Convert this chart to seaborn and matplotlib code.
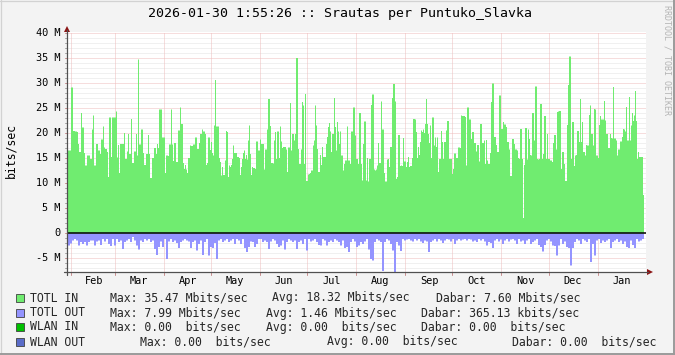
import numpy as np
import pandas as pd
import matplotlib
matplotlib.use("Agg")
import matplotlib.pyplot as plt
import matplotlib.transforms as mtransforms
from matplotlib.patches import Polygon, Rectangle
from matplotlib.lines import Line2D
import seaborn as sns

# ---------------- data (Mbit/s, one value per time slot) ----------------
title = "2026-01-30 1:55:26 :: Srautas per Puntuko_Slavka"
start = pd.Timestamp("2025-01-30 01:55:26")
end = pd.Timestamp("2026-01-30 01:55:26")
month_starts = pd.date_range("2025-02-01", "2026-01-01", freq="MS")
month_labels = [d.strftime("%b") for d in month_starts]

in_feb_mar = [16.6,16.6,16.6,29.2,29.2,20.5,20.5,20.4,20.4,20.3,
              17.9,16.3,16.3,24.1,21.2,21.2,16.1,13.6,13.6,15.6,
              15.6,15.6,14.9,14.9,20.8,23.6,13.6,13.6,17.9,17.9,
              16.6,16.6,15.9,18.8,18.8,21.4,17.2,16.9,16.9,16.3,
              11.3,23.2,23.2,15.3,23.2,23.2,23.2,23.2,24.4,15.2,
              17.7,12.1,17.9,17.9,17.9,17.9,20.1,14.9,14.9,16.4,
              19.9,15.9,15.9,22.9,14.1,14.1,16.4,16.4,19.9,15.6,
              34.8,17.8,17.8,20.8,20.8,16.1,13.7,13.7,15.9,15.9,
              19.7,15.9,11.1,11.1,15.1,15.1,17.1,17.1,15.9,17.9,
              17.1,24.8,24.8,24.8]
in_apr_may = [19.2,19.2,19.2,12.1,15.6,15.6,15.5,17.8,17.8,24.8,
              17.8,14.5,18.1,18.1,14.3,14.3,20.6,20.6,25.2,21.9,
              21.9,14.1,12.9,13.7,12.8,12.1,15.1,15.1,17.6,17.5,
              17.5,17.8,17.8,19.2,19.2,16.9,16.9,18.1,19.9,19.9,
              20.8,20.4,20.4,19.9,13.7,14.1,19.2,19.2,16.7,18.3,
              16.1,15.6,21.6,30.7,21.4,21.4,21.4,15.1,14.3,11.6,
              13.3,11.7,11.7,14.6,20.5,20.3,11.3,13.6,13.3,13.7,
              14.9,17.6,16.1,16.1,16.1,15.3,15.3,15.1,11.7,13.3,
              14.9,16.1,16.6,14.9,15.7,14.8,18.6,21.6,15.9,11.7,
              13.3,13.1,13.1,12.9,18.4,18.4,16.6,16.6]
in_jun_jul = [18.8,17.9,17.9,17.9,12.8,16.8,16.8,20.8,26.9,26.9,
              21.5,14.1,14.1,14.0,18.6,20.3,14.9,20.4,20.4,15.1,
              21.4,18.4,17.1,17.3,17.3,17.3,16.8,12.3,17.2,17.2,
              26.1,16.6,19.9,19.9,18.6,19.9,35.1,35.1,16.9,13.9,
              13.9,16.8,26.3,25.6,13.9,27.9,10.5,10.5,11.8,11.9,
              12.1,12.6,12.6,17.6,18.6,25.6,21.6,16.9,12.3,12.3,
              15.7,13.7,17.3,15.3,15.3,15.3,17.9,19.3,21.3,22.1,
              20.4,16.3,19.9,19.9,27.1,21.3,16.6,22.3,20.4,17.9,
              20.4,15.6,15.6,12.6,13.9,14.6,14.6,21.4,14.6,14.6,
              13.9,20.4,20.4,25.2,25.2,19.6,14.9,14.9]
in_aug_sep = [13.9,24.1,24.1,13.9,10.6,17.9,22.4,22.4,10.6,15.1,
              10.4,14.9,14.9,25.7,27.8,27.8,12.8,12.6,12.8,13.6,
              18.1,14.1,14.1,26.4,20.8,20.8,12.1,10.4,10.4,14.8,
              14.9,13.3,17.3,17.3,27.1,29.9,29.9,26.4,10.9,11.3,
              19.7,19.7,13.5,13.6,13.5,19.1,14.4,14.4,13.3,14.3,
              15.3,13.3,13.5,13.5,15.1,22.9,22.9,22.8,20.3,15.1,
              17.3,15.7,18.3,20.6,20.3,20.8,20.1,21.9,26.9,21.9,
              19.9,18.1,21.6,15.1,23.2,23.2,17.6,19.2,17.3,19.2,
              12.3,14.9,14.9,20.5,18.3,14.9,18.3,18.3,20.6,22.5,
              22.5,14.9,14.9,14.9,11.9,12.9,16.0,16.0]
in_oct_nov = [15.1,15.1,17.2,17.2,17.1,23.6,23.5,23.5,23.5,23.3,
              13.6,25.2,25.2,22.8,22.8,18.9,20.3,20.3,18.1,18.1,
              16.4,17.7,17.7,14.4,21.9,21.9,18.1,18.1,18.6,13.9,
              18.7,14.6,13.9,13.9,16.1,26.3,30.0,30.0,19.3,19.3,
              17.7,16.3,16.3,27.6,27.6,20.9,20.9,22.3,21.8,21.8,
              21.3,18.3,18.3,16.8,11.5,11.5,18.9,18.9,17.9,16.8,
              16.8,16.6,15.1,14.9,20.9,20.9,14.9,3.1,13.7,21.1,
              21.1,14.8,20.8,18.9,15.7,15.6,24.1,24.1,18.6,29.4,
              29.4,14.9,14.8,14.9,25.9,25.9,14.9,15.9,23.5,23.5,
              14.9,19.9,14.9,14.9,14.6,14.6,14.3,18.1]
in_dec_jan = [19.7,19.7,16.8,24.3,24.4,24.5,24.5,12.9,16.3,16.3,
              13.9,10.5,10.5,21.7,29.7,35.4,35.4,14.9,22.3,22.3,
              13.5,15.6,15.7,20.5,20.5,18.3,26.9,18.3,22.3,16.3,
              16.3,15.6,17.7,17.6,17.6,23.7,25.6,19.9,19.9,17.6,
              24.9,24.8,15.6,15.6,15.1,21.7,23.5,22.8,22.8,22.8,
              26.5,22.6,19.9,19.9,17.1,17.1,19.9,19.1,19.0,29.3,
              19.0,19.0,18.6,15.6,16.8,16.8,18.4,18.4,19.3,20.9,
              20.8,20.4,25.3,18.6,18.6,27.3,18.6,21.6,24.1,22.5,
              23.6,28.5,22.5,14.9,16.3,15.3,15.3,15.3,15.3,7.7]

out_feb_mar = [2.4,2.0,1.4,1.1,1.4,2.4,1.7,2.1,1.7,2.4,
               1.7,1.4,1.4,2.4,1.6,1.4,2.3,1.1,1.6,1.1,
               2.1,2.5,1.1,2.4,1.1,1.7,1.4,3.1,1.7,1.4,
               1.1,1.7,0.7,1.4,2.4,3.2,1.4,1.7,1.1,1.4,
               1.1,1.7,1.4,3.1,4.3,2.7,1.6]
out_apr_may = [2.7,1.1,5.1,1.6,1.1,1.7,1.4,1.9,2.9,1.7,
               1.4,1.1,1.4,1.6,2.9,1.7,1.4,3.4,2.1,1.4,
               4.3,1.7,1.1,4.4,2.7,2.9,1.9,5.1,1.4,1.1,
               1.7,1.4,1.1,1.7,1.4,1.1,2.1,1.1,1.4,2.1,
               1.1,2.9,3.7,2.7,1.6,1.7,2.7,2.1,1.1]
out_jun_jul = [1.1,1.7,1.4,1.7,3.1,1.6,1.1,1.4,2.1,2.7,
               2.4,1.4,3.2,1.7,1.1,1.4,1.7,1.4,3.1,1.7,
               1.4,2.1,1.1,3.4,1.1,1.6,1.4,1.1,1.7,2.3,
               2.4,1.1,1.4,2.4,1.7,1.4,1.7,1.1,1.4,1.7,
               2.4,1.4,2.9,2.7,3.7,1.7,1.1,1.6,2.7]
out_aug_sep = [2.4,1.7,2.1,1.6,1.1,3.2,5.1,5.4,1.7,1.1,
               1.4,1.7,7.5,1.7,1.1,1.4,2.1,3.4,7.99,1.7,
               2.4,3.5,1.1,1.4,1.2,1.1,1.4,1.6,1.1,1.4,
               1.1,1.6,1.9,1.4,1.6,3.7,1.7,1.4,1.1,1.6,
               1.1,1.4,1.9,1.4,1.1,1.2,1.6,1.1,2.1]
out_oct_nov = [1.4,1.1,1.4,1.2,1.1,1.4,1.1,1.2,1.6,1.4,
               1.7,1.1,1.4,1.1,1.6,2.4,1.7,1.9,2.9,1.4,
               1.1,1.6,1.2,2.1,1.4,1.1,1.6,1.2,1.1,1.4,
               2.1,1.1,1.6,1.4,2.1,1.4,1.1,2.1,1.7,1.4,
               1.1,2.3,2.7,3.6,2.3,1.4,1.1,1.6,2.4]
out_dec_jan = [2.5,4.4,2.4,1.1,2.1,1.6,2.7,2.9,6.4,2.9,
               1.7,1.1,1.4,2.1,1.1,1.4,1.7,1.1,5.7,2.1,
               4.4,1.4,1.1,1.9,1.4,1.7,1.4,1.1,2.9,1.7,
               1.4,1.1,1.7,1.4,2.1,1.6,2.7,2.9,1.4,2.3,
               2.9,1.1,1.6,1.4,1.1]

legend_names = ["TOTL IN", "TOTL OUT", "WLAN IN", "WLAN OUT"]
legend_max = ["Max: 35.47 Mbits/sec", "Max: 7.99 Mbits/sec", "Max: 0.00  bits/sec", "Max: 0.00  bits/sec"]
legend_avg = ["Avg: 18.32 Mbits/sec", "Avg: 1.46 Mbits/sec", "Avg: 0.00  bits/sec", "Avg: 0.00  bits/sec"]
legend_now = ["Dabar: 7.60 Mbits/sec", "Dabar: 365.13 kbits/sec", "Dabar: 0.00  bits/sec", "Dabar: 0.00  bits/sec"]
legend_colors = ["#70EC70", "#9494FF", "#00C000", "#5A6CC8"]
ytick_vals = [40, 35, 30, 25, 20, 15, 10, 5, 0, -5]
ytick_labels = ["40 M", "35 M", "30 M", "25 M", "20 M", "15 M", "10 M", "5 M", "0", "-5 M"]

# ---------------- build frames ----------------
span = (end - start).total_seconds() / 86400.0
totl_in = np.concatenate([in_feb_mar, in_apr_may, in_jun_jul, in_aug_sep, in_oct_nov, in_dec_jan])
totl_out = np.concatenate([out_feb_mar, out_apr_may, out_jun_jul, out_aug_sep, out_oct_nov, out_dec_jan])
e_in = np.linspace(0, span, len(totl_in) + 1)
e_out = np.linspace(0, span, len(totl_out) + 1)
df_in = pd.DataFrame({"day": (e_in[:-1] + e_in[1:]) / 2, "mbps": totl_in})
df_out = pd.DataFrame({"day": (e_out[:-1] + e_out[1:]) / 2, "mbps": -totl_out})

# ---------------- figure ----------------
W, H = 675, 355
sns.set_style("white")
plt.rcParams['font.family'] = ['DejaVu Sans Mono', 'DejaVu Sans']

fig = plt.figure(figsize=(W / 100, H / 100), dpi=100)
fig.patch.set_facecolor("#F3F3F3")

def fx(px):
    return px / W

def fy(py):
    return 1 - py / H

AX_L, AX_R, AX_T, AX_B = 67, 646, 32, 272
ax = fig.add_axes([fx(AX_L), fy(AX_B), (AX_R - AX_L) / W, (AX_B - AX_T) / H])
ax.set_facecolor("white")

pxday = len(totl_in) / span

# grid (behind data), light dotted lines
dot = (0, (1, 1))
for v in range(-7, 41):
    if v % 5 == 0:
        ax.axhline(v, color="#EEBDBD", lw=0.72, ls=dot, zorder=0.5)
    else:
        ax.axhline(v, color="#E3E3E3", lw=0.72, ls=dot, zorder=0.4)
month_days = [(d - start).total_seconds() / 86400.0 for d in month_starts]
for d in month_days:
    ax.axvline(d, color="#EEBDBD", lw=0.72, ls=dot, zorder=0.5)

# data areas
sns.histplot(data=df_in, x="day", weights="mbps", bins=list(e_in), element="step",
             fill=True, color=legend_colors[0], alpha=1, linewidth=0, ax=ax, zorder=2)
sns.histplot(data=df_out, x="day", weights="mbps", bins=list(e_out), element="step",
             fill=True, color=legend_colors[1], alpha=1, linewidth=0, ax=ax, zorder=2)
ax.set_xlim(-0.5 / pxday, span + 2.5 / pxday)
ax.set_ylim(-7.8, 40.2)
ax.axhline(0, color="black", lw=1.1, zorder=3)

for s in ax.spines.values():
    s.set_visible(False)
ax.set_xticks([])
ax.set_yticks([])
ax.set_xlabel("")
ax.set_ylabel("")

# y tick labels and tick marks
tr_y = mtransforms.blended_transform_factory(ax.transAxes, ax.transData)
for v, lab in zip(ytick_vals, ytick_labels):
    ax.text(-6.5 / (AX_R - AX_L), v, lab, transform=tr_y, ha="right", va="center",
            fontsize=7.4, color="black", clip_on=False)
for v in range(-7, 41):
    ax.plot([-2.5 / (AX_R - AX_L), 0], [v, v], transform=tr_y,
            color="#A8A8A8" if v % 5 else "#C89090", lw=0.72, clip_on=False, zorder=4)

# x labels
tr_x = mtransforms.blended_transform_factory(ax.transData, ax.transAxes)
for d, lab in zip(month_days, month_labels):
    ax.text(d + 24 / pxday, -9.5 / (AX_B - AX_T), lab, transform=tr_x, ha="center", va="center",
            fontsize=7.4, color="black", clip_on=False)
    ax.plot([d, d], [-2.5 / (AX_B - AX_T), 0], transform=tr_x, color="#C89090",
            lw=0.72, clip_on=False)

# axes lines and arrows (figure pixel coords)
fig.add_artist(Line2D([fx(67), fx(67)], [fy(AX_B + 3), fy(30)], color="#505050", lw=0.9))
fig.add_artist(Line2D([fx(64), fx(648)], [fy(AX_B), fy(AX_B)], color="#505050", lw=0.9))
fig.add_artist(Polygon([[fx(64), fy(32)], [fx(70), fy(32)], [fx(67), fy(26)]],
                       closed=True, color="#8B1414", lw=0))
fig.add_artist(Polygon([[fx(647), fy(AX_B - 3)], [fx(647), fy(AX_B + 3)], [fx(653), fy(AX_B)]],
                       closed=True, color="#8B1414", lw=0))

# title, y label, watermark
fig.text(fx(340), fy(14), title, ha="center", va="center", fontsize=9.5, color="black")
fig.text(fx(11), fy(150), "bits/sec", ha="center", va="center", rotation=90,
         fontsize=8.3, color="black")
fig.text(fx(667), fy(60), "RRDTOOL / TOBI OETIKER", ha="center", va="center",
         rotation=270, fontsize=6.0, color="#B4B4B4")

# legend
row_y = [298, 313, 327, 342]
max_x = [109.8, 109.8, 109.8, 140]
avg_x = [272.5, 265.6, 265.6, 327]
now_x = [435.6, 420.6, 420.6, 512]
for i in range(4):
    y = row_y[i]
    fig.add_artist(Rectangle((fx(16), fy(y + 4)), 8 / W, 8 / H, facecolor=legend_colors[i],
                             edgecolor="#404040", lw=0.6))
    fig.text(fx(30), fy(y), legend_names[i], ha="left", va="center", fontsize=8.3)
    fig.text(fx(max_x[i]), fy(y), legend_max[i], ha="left", va="center", fontsize=8.3)
    fig.text(fx(avg_x[i]), fy(y), legend_avg[i], ha="left", va="center", fontsize=8.3)
    fig.text(fx(now_x[i]), fy(y), legend_now[i], ha="left", va="center", fontsize=8.3)

# image border shading
fig.add_artist(Line2D([0, 1], [fy(0.5), fy(0.5)], color="#D2D2D2", lw=0.9))
fig.add_artist(Line2D([fx(0.5), fx(0.5)], [0, 1], color="#D2D2D2", lw=0.9))
fig.add_artist(Line2D([0, 1], [fy(H - 1), fy(H - 1)], color="#9A9A9A", lw=1.4))
fig.add_artist(Line2D([fx(W - 1), fx(W - 1)], [0, 1], color="#9A9A9A", lw=1.4))

fig.savefig("out.png", dpi=100, facecolor=fig.get_facecolor())
